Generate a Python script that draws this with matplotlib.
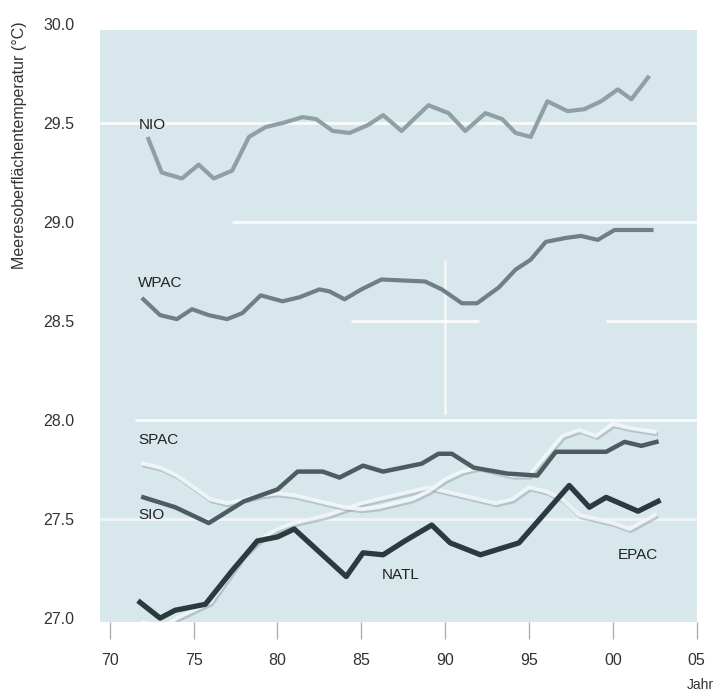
import matplotlib.pyplot as plt
import matplotlib.patheffects as pe
from matplotlib.patches import Rectangle

# Sea surface temperature by ocean basin, read as (year, °C) vertices
nio_years = [72.3, 73.1, 74.3, 75.3, 76.2, 77.3, 78.3, 79.3, 80.3, 81.5, 82.3, 83.3, 84.3, 85.4, 86.3,
             87.4, 89.0, 90.2, 91.2, 92.4, 93.4, 94.2, 95.1, 96.1, 97.3, 98.3, 99.3, 100.3, 101.1, 102.1]
nio_sst = [29.42, 29.25, 29.22, 29.29, 29.22, 29.26, 29.43, 29.48, 29.50, 29.53, 29.52, 29.46, 29.45, 29.49, 29.54,
           29.46, 29.59, 29.55, 29.46, 29.55, 29.52, 29.45, 29.43, 29.61, 29.56, 29.57, 29.61, 29.67, 29.62, 29.73]

wpac_years = [72.0, 73.0, 74.0, 74.9, 75.9, 77.0, 77.9, 79.0, 80.3, 81.3, 82.5, 83.1, 84.0, 85.0, 86.2,
              88.8, 89.8, 91.0, 91.9, 93.2, 94.2, 95.1, 96.0, 97.2, 98.1, 99.1, 100.1, 102.3]
wpac_sst = [28.61, 28.53, 28.51, 28.56, 28.53, 28.51, 28.54, 28.63, 28.60, 28.62, 28.66, 28.65, 28.61, 28.66, 28.71,
            28.70, 28.66, 28.59, 28.59, 28.67, 28.76, 28.81, 28.90, 28.92, 28.93, 28.91, 28.96, 28.96]

sio_years = [72.0, 73.9, 75.9, 78.0, 80.0, 81.2, 82.7, 83.7, 85.1, 86.3, 88.6, 89.6, 90.4, 91.7, 93.7,
             95.5, 96.6, 99.6, 100.7, 101.7, 102.6]
sio_sst = [27.61, 27.56, 27.48, 27.59, 27.65, 27.74, 27.74, 27.71, 27.77, 27.74, 27.78, 27.83, 27.83, 27.76, 27.73,
           27.72, 27.84, 27.84, 27.89, 27.87, 27.89]

natl_years = [71.8, 73.0, 73.9, 75.7, 77.3, 78.8, 80.0, 81.0, 84.1, 85.1, 86.3, 87.6, 89.2, 90.3, 92.1,
              94.4, 97.4, 98.6, 99.6, 101.5, 102.7]
natl_sst = [27.08, 27.00, 27.04, 27.07, 27.24, 27.39, 27.41, 27.45, 27.21, 27.33, 27.32, 27.39, 27.47, 27.38, 27.32,
            27.38, 27.67, 27.56, 27.61, 27.54, 27.59]

light_years = [72, 73, 74, 75, 76, 77, 78, 79, 80, 81, 82, 83, 84, 85, 86, 87,
               88, 89, 90, 91, 92, 93, 94, 95, 96, 97, 98, 99, 100, 101, 102.5]
spac_sst = [27.78, 27.76, 27.72, 27.66, 27.60, 27.58, 27.60, 27.62, 27.63, 27.62, 27.60, 27.58, 27.56, 27.55, 27.56, 27.58,
            27.60, 27.64, 27.70, 27.74, 27.76, 27.74, 27.72, 27.72, 27.82, 27.92, 27.95, 27.92, 27.98, 27.96, 27.94]
epac_sst = [26.98, 26.94, 27.00, 27.04, 27.08, 27.20, 27.32, 27.40, 27.45, 27.48, 27.50, 27.52, 27.55, 27.58, 27.60, 27.62,
            27.64, 27.66, 27.64, 27.62, 27.60, 27.58, 27.60, 27.66, 27.64, 27.60, 27.52, 27.50, 27.48, 27.45, 27.52]

x_ticks = [70, 75, 80, 85, 90, 95, 100, 105]
x_labels = ['70', '75', '80', '85', '90', '95', '00', '05']
y_ticks = [27.0, 27.5, 28.0, 28.5, 29.0, 29.5, 30.0]

plt.rcParams['font.family'] = ['Liberation Sans', 'DejaVu Sans']

fig = plt.figure(figsize=(7.28, 6.92), dpi=100)
ax = fig.add_axes([0.137, 0.101, 0.82, 0.870])
ax.set_xlim(69.4, 105.0)
ax.set_ylim(26.98, 30.02)
ax.set_facecolor('white')
for s in ax.spines.values():
    s.set_visible(False)

# pale blue plotting field
ax.add_patch(Rectangle((69.4, 26.98), 35.6, 2.99, facecolor='#d7e7ec', edgecolor='none', zorder=0))

# white grid fragments
grid_kw = dict(color='white', lw=2, alpha=0.85, zorder=1)
ax.hlines(29.5, 69.4, 105.0, **grid_kw)
ax.hlines(29.0, 77.3, 105.0, **grid_kw)
ax.hlines([28.5, 28.5], [84.4, 99.6], [92.0, 105.0], **grid_kw)
ax.hlines(28.0, 71.5, 105.0, **grid_kw)
ax.hlines(27.5, 69.4, 105.0, color='white', lw=2, alpha=0.6, zorder=1)
ax.vlines(90, 28.03, 28.81, color='white', lw=2, alpha=0.7, zorder=1)

shadow = [pe.SimpleLineShadow(offset=(1, -1.5), shadow_color='#8fa2a8', alpha=0.5), pe.Normal()]
ax.plot(light_years, epac_sst, color='#f2f7f8', lw=2.8, alpha=0.9, path_effects=shadow, zorder=2)
ax.plot(light_years, spac_sst, color='#f4f8f9', lw=2.8, alpha=0.9, path_effects=shadow, zorder=2)

ax.plot(nio_years, nio_sst, color='#8fa0a5', lw=3.0, zorder=3)
ax.plot(wpac_years, wpac_sst, color='#6e8086', lw=3.0, zorder=3)
ax.plot(sio_years, sio_sst, color='#4c5c61', lw=3.2, zorder=3)
ax.plot(natl_years, natl_sst, color='#2b3a3f', lw=3.8, zorder=4)

label_kw = dict(fontsize=11, color='#222222', va='center', zorder=5)
ax.text(71.7, 29.49, 'NIO', **label_kw)
ax.text(71.7, 28.69, 'WPAC', **label_kw)
ax.text(71.7, 27.90, 'SPAC', **label_kw)
ax.text(71.7, 27.52, 'SIO', **label_kw)
ax.text(86.2, 27.22, 'NATL', **label_kw)
ax.text(100.3, 27.32, 'EPAC', **label_kw)

ax.set_xticks(x_ticks)
ax.set_xticklabels(x_labels)
ax.set_yticks(y_ticks)
ax.set_yticklabels([f'{v:.1f}' for v in y_ticks])
ax.tick_params(axis='x', length=12, width=1, color='#b0b0b0', pad=10, labelsize=11.5, labelcolor='#333333')
ax.tick_params(axis='y', length=0, pad=18, labelsize=11.5, labelcolor='#333333')

fig.text(0.027, 0.79, 'Meeresoberflächentemperatur (°C)', rotation=90,
         ha='center', va='center', fontsize=11.5, color='#333333')
fig.text(0.962, 0.010, 'Jahr', ha='center', va='center', fontsize=10, color='#333333')

fig.savefig('out.png', dpi=100)
